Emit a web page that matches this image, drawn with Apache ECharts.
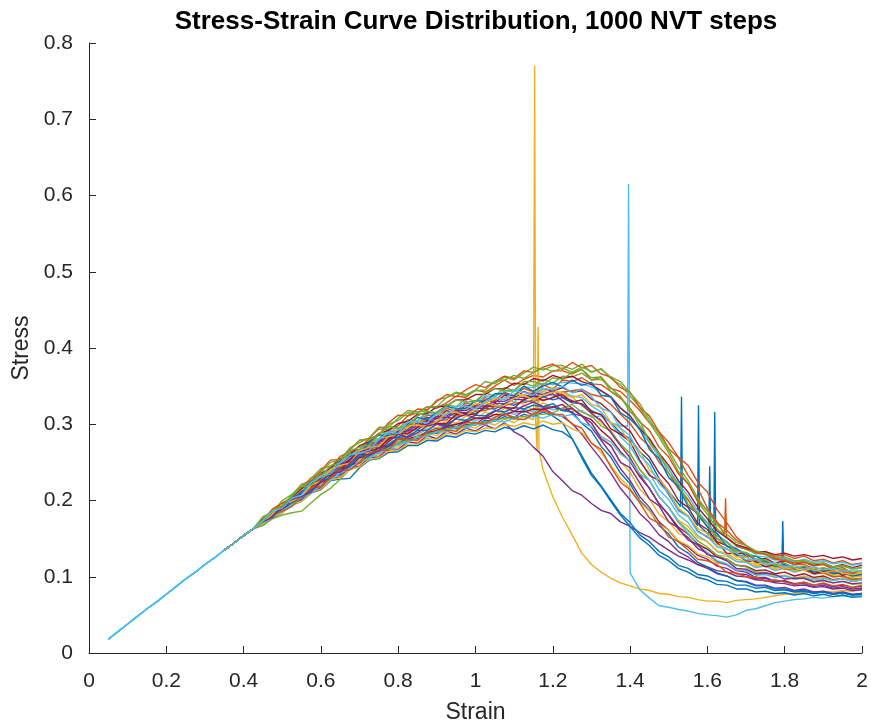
<!DOCTYPE html>
<html><head><meta charset="utf-8">
<script src="https://cdn.jsdelivr.net/npm/echarts@6/dist/echarts.min.js"></script>
<style>html,body{margin:0;padding:0;background:#fff}#c{width:871px;height:723px}</style>
</head><body><div id="c"></div>
<script>
// Strain grid (x values)
const strain = [0.05,0.075,0.1,0.125,0.15,0.175,0.2,0.225,0.25,0.275,0.3,0.325,0.35,0.375,0.4,0.425,
0.45,0.475,0.5,0.525,0.55,0.575,0.6,0.625,0.65,0.675,0.7,0.725,0.75,0.775,0.8,0.825,0.85,0.875,0.9,0.925,0.95,0.975,
1,1.025,1.05,1.075,1.1,1.125,1.15,1.175,1.2,1.225,1.25,1.275,1.3,1.325,1.35,1.375,1.4,1.425,1.45,1.475,1.5,1.525,
1.55,1.575,1.6,1.625,1.65,1.675,1.7,1.725,1.75,1.775,1.8,1.825,1.85,1.875,1.9,1.925,1.95,1.975,2];
// Shared elastic part (0.05 .. 0.425), identical for all runs
const sharedStart = [0.018,0.028,0.038,0.048,0.058,0.067,0.077,0.087,0.097,0.106,0.116,0.125,0.135,0.144,0.154,0.163];
// Stress of each run from strain 0.45 to 2.0
const curve00 = [.172,.182,.189,.200,.207,.218,.224,.236,.241,.252,.257,.267,.271,.281,.283,.292,.293,.301,.302,.309,.308,.315,.314,.321,.320,.327,.325,.331,.329,.336,.332,
.335,.328,.327,.318,.312,.302,.289,.281,.264,.252,.229,.212,.196,.186,.168,.157,.143,.137,.128,.126,.119,.12,.113,.114,.109,.111,.107,.109,.105,.107,.103,.105];
const curve01 = [.174,.188,.193,.201,.217,.23,.234,.242,.258,.264,.267,.282,.294,.293,.298,.311,.315,.323,.321,.328,.337,.335,.345,.342,.35,.358,.351,.359,.364,.362,.37,
.37,.366,.372,.358,.362,.347,.343,.331,.318,.302,.29,.268,.256,.233,.216,.19,.172,.152,.14,.136,.131,.133,.127,.129,.124,.127,.121,.123,.118,.121,.116,.118];
const curve02 = [.170,.179,.185,.196,.201,.213,.217,.230,.233,.245,.248,.258,.259,.270,.270,.280,.278,.288,.285,.294,.290,.298,.295,.303,.299,.307,.302,.310,.306,
.24,.205,.178,.155,.131,.116,.106,.098,.092,.088,.084,.082,.078,.077,.074,.073,.07,.068,.068,.066,.069,.07,.071,.073,.075,.077,.078,.08,.079,.081,.08,.082,.081,.083];
const curve03 = [.169,.178,.185,.195,.200,.212,.216,.228,.231,.243,.245,.256,.257,.268,.267,.277,.275,.285,.281,.291,.287,.295,.291,.299,.294,.302,
.29,.283,.27,.258,.238,.226,.213,.207,.196,.187,.183,.172,.166,.158,.152,.143,.135,.127,.122,.116,.113,.108,.106,.101,.1,.096,.095,.092,.091,.088,.089,.086,.087,.084,.085,.082,.083];
const curve04 = [.177,.184,.2,.208,.214,.229,.242,.245,.253,.269,.276,.282,.296,.296,.308,.318,.316,.318,.332,.335,.342,.339,.345,.356,.353,.362,.358,.367,.375,.371,.377,
.377,.372,.379,.368,.373,.36,.352,.337,.322,.302,.283,.262,.238,.222,.198,.182,.163,.152,.141,.137,.13,.13,.124,.124,.119,.12,.115,.117,.112,.114,.11,.112];
const curve05 = [.171,.180,.187,.198,.205,.216,.221,.233,.237,.249,.252,.263,.266,.275,.277,.285,.286,.294,.293,.301,.299,.306,.304,.311,.309,.317,.313,.320,.316,.323,.319,
.321,.316,.318,.309,.311,.302,.298,
.105,.083,.072,.062,.06,.057,.055,.052,.05,.049,.047,.05,.056,.058,.062,.066,.068,.07,.071,.073,.072,.074,.075,.074,.076];
const curve06 = [.173,.184,.190,.203,.208,.222,.227,.241,.244,.258,.260,.274,.275,.288,.287,.300,.298,.309,.307,.318,.314,.325,.321,.332,.328,.338,.334,.343,.338,.347,.343,
.348,.342,.344,.333,.327,.316,.301,.291,.27,.257,.236,.222,.2,.191,.17,.162,.146,.141,.131,.13,.122,.124,.118,.121,.116,.119,.115,.118,.113,.116,.112,.115];
const curve07 = [.168,.177,.184,.194,.199,.210,.214,.226,.228,.229,.243,.253,.255,.263,.264,.272,.272,.279,.278,.285,.283,.289,.287,.292,.290,.296,.293,.298,.294,.299,.293,
.29,.281,.259,.236,.219,.201,.183,.171,.155,.146,.133,.126,.115,.111,.103,.101,.095,.094,.089,.089,.085,.086,.082,.083,.08,.081,.078,.08,.077,.079,.076,.077];
const curve08 = [.174,.185,.191,.204,.209,.223,.229,.242,.247,.259,.263,.276,.277,.290,.290,.302,.301,.312,.310,.321,.317,.328,.324,.335,.331,.342,.337,.347,.342,.352,.346,
.358,.356,.361,.353,.352,.343,.334,.321,.303,.292,.27,.257,.235,.222,.2,.187,.171,.161,.148,.141,.133,.131,.125,.123,.118,.119,.114,.116,.11,.112,.105,.106];
const curve09 = [.171,.181,.188,.199,.205,.217,.222,.234,.238,.250,.253,.265,.266,.278,.278,.289,.287,.297,.295,.305,.301,.311,.306,.316,.312,.321,.316,.325,.319,.328,.322,
.326,.319,.312,.301,.284,.272,.251,.237,.215,.202,.182,.172,.157,.152,.14,.137,.128,.127,.12,.12,.113,.115,.109,.112,.106,.109,.104,.107,.102,.105,.099,.101];
const curve10 = [.170,.180,.186,.198,.203,.215,.219,.232,.234,.247,.250,.261,.263,.273,.274,.284,.282,.291,.290,.299,.296,.304,.300,.309,.305,.314,.309,.318,.312,.321,.314,
.31,.301,.287,.27,.254,.236,.216,.201,.183,.171,.155,.146,.133,.126,.116,.111,.104,.101,.095,.094,.089,.089,.085,.086,.082,.084,.08,.081,.078,.08,.077,.078];
const curve11 = [.174,.186,.192,.206,.211,.225,.230,.244,.248,.263,.266,.280,.281,.294,.294,.306,.305,.316,.314,.326,.323,.334,.330,.341,.337,.348,.344,.354,.350,.359,.354,
.363,.362,.367,.358,.359,.348,.336,.32,.298,.281,.259,.242,.218,.201,.18,.166,.15,.141,.13,.126,.119,.119,.113,.113,.108,.109,.104,.105,.1,.101,.097,.098];
const curve12 = [.173,.183,.190,.203,.208,.221,.225,.239,.243,.256,.258,.272,.273,.286,.285,.297,.295,.307,.303,.315,.311,.322,.317,.328,.323,.335,.329,.339,.334,.344,.337,
.343,.337,.335,.324,.316,.301,.284,.271,.25,.236,.214,.201,.181,.171,.154,.146,.133,.129,.12,.119,.112,.114,.108,.111,.106,.109,.105,.108,.104,.107,.103,.105];
const curve13 = [.171,.178,.189,.195,.207,.212,.224,.229,.241,.245,.256,.259,.270,.271,.281,.280,.284,.289,.292,.297,.300,.303,.308,.307,.313,.312,.317,.316,.320,.319,.323,
.318,.321,.311,.306,.292,.281,.264,.251,.231,.216,.196,.181,.165,.156,.143,.136,.126,.123,.115,.114,.108,.109,.104,.106,.101,.104,.099,.101,.096,.098,.094,.096];
const curve14 = [.170,.179,.186,.197,.202,.214,.218,.231,.234,.246,.249,.259,.262,.271,.273,.281,.281,.289,.288,.296,.294,.300,.299,.305,.304,.310,.307,.313,.310,.316,.311,
.302,.281,.256,.233,.218,.199,.181,.166,.151,.141,.128,.121,.111,.106,.099,.096,.09,.089,.084,.084,.08,.081,.078,.079,.076,.078,.075,.077,.074,.076,.073,.074];
const curve15 = [.172,.180,.191,.198,.209,.216,.227,.234,.244,.250,.260,.265,.274,.278,.286,.289,.296,.298,.304,.306,.311,.312,.317,.318,.323,.324,.328,.328,.332,.332,.335,
.342,.344,.346,.339,.336,.326,.313,.301,.283,.271,.25,.236,.215,.201,.182,.171,.154,.146,.135,.131,.123,.121,.115,.114,.109,.109,.104,.105,.1,.101,.096,.097];
const curve16 = [.173,.182,.193,.200,.212,.218,.232,.237,.249,.253,.266,.269,.280,.283,.293,.295,.304,.304,.313,.313,.320,.320,.327,.327,.334,.333,.340,.338,.344,.342,.348,
.338,.336,.324,.316,.302,.291,.273,.261,.24,.226,.205,.191,.174,.166,.151,.146,.134,.131,.123,.121,.115,.116,.111,.113,.108,.111,.107,.109,.105,.108,.104,.106];
const curve17 = [.173,.181,.192,.199,.211,.217,.230,.235,.247,.251,.263,.267,.277,.280,.289,.291,.299,.300,.308,.309,.315,.315,.321,.321,.327,.327,.333,.332,.337,.336,.340,
.331,.321,.311,.296,.279,.262,.242,.226,.205,.191,.172,.161,.146,.139,.128,.123,.114,.111,.104,.103,.097,.098,.093,.095,.091,.093,.089,.091,.087,.089,.086,.087];
const curve18 = [.167,.176,.181,.184,.186,.197,.208,.216,.228,.241,.250,.256,.265,.268,.276,.278,.284,.286,.291,.293,.297,.297,.302,.302,.307,.307,.310,.310,.313,.313,.315,
.321,.326,.316,.311,.298,.291,.274,.262,.241,.226,.205,.191,.172,.161,.147,.139,.128,.123,.115,.113,.106,.106,.101,.101,.097,.098,.094,.096,.092,.094,.09,.091];
const curve19 = [.174,.185,.192,.205,.211,.224,.230,.243,.248,.260,.265,.277,.280,.291,.293,.303,.305,.313,.314,.322,.322,.330,.329,.337,.336,.344,.343,.349,.348,.354,.352,
.355,.354,.353,.349,.343,.336,.322,.311,.292,.276,.257,.241,.222,.206,.186,.171,.155,.146,.136,.131,.127,.126,.122,.124,.12,.123,.119,.121,.117,.119,.115,.117];
const curve20 = [.175,.184,.196,.204,.216,.223,.236,.242,.255,.260,.272,.277,.288,.292,.301,.304,.313,.314,.323,.324,.332,.332,.339,.339,.347,.346,.354,.352,.360,.357,.364,
.36,.363,.356,.352,.344,.336,.321,.311,.294,.281,.262,.246,.226,.211,.191,.176,.16,.151,.142,.138,.133,.133,.129,.131,.127,.129,.126,.128,.124,.126,.122,.124];
const curve21 = [.171,.179,.190,.196,.207,.213,.226,.230,.242,.246,.258,.260,.271,.273,.283,.284,.292,.292,.300,.300,.307,.305,.312,.311,.318,.316,.322,.320,.325,.323,.327,
.318,.316,.301,.291,.271,.257,.236,.222,.2,.187,.167,.156,.139,.131,.119,.113,.105,.101,.095,.093,.088,.088,.084,.084,.081,.082,.079,.08,.077,.079,.076,.078];
const curve22 = [.174,.189,.197,.204,.221,.226,.239,.253,.254,.267,.279,.281,.286,.302,.312,.311,.32,.319,.33,.339,.336,.345,.352,.348,.356,.363,.36,.37,.368,.375,.379,
.372,.381,.374,.377,.366,.362,.348,.342,.322,.311,.29,.276,.257,.246,.224,.211,.188,.171,.152,.141,.132,.129,.123,.121,.116,.116,.111,.111,.106,.108,.103,.104];
const curve23 = [.169,.178,.184,.195,.199,.211,.215,.227,.230,.241,.244,.254,.256,.265,.266,.274,.274,.282,.280,.288,.286,.292,.290,.295,.294,.300,.297,.302,.299,.304,.300,
.302,.294,.289,.276,.263,.246,.229,.216,.198,.186,.169,.161,.147,.141,.13,.126,.118,.116,.109,.109,.103,.105,.1,.102,.098,.101,.097,.099,.095,.098,.094,.096];
const curve24 = [.173,.181,.192,.200,.212,.218,.230,.236,.248,.253,.264,.269,.279,.282,.291,.293,.302,.303,.310,.311,.318,.318,.324,.324,.330,.330,.336,.335,.341,.339,.344,
.336,.331,.326,.314,.305,.289,.272,.256,.234,.216,.195,.181,.162,.151,.137,.131,.12,.116,.108,.106,.099,.099,.094,.094,.09,.091,.087,.089,.085,.087,.084,.085];
const curve25 = [.179,.185,.192,.208,.221,.224,.237,.25,.253,.266,.279,.28,.285,.3,.305,.315,.314,.323,.323,.335,.341,.337,.344,.345,.356,.358,.364,.36,.368,.374,.369,
.374,.368,.375,.369,.372,.362,.356,.341,.327,.306,.287,.266,.244,.226,.203,.186,.168,.156,.145,.141,.134,.131,.126,.126,.121,.121,.117,.118,.113,.115,.111,.112];
const curve26 = [.170,.178,.187,.194,.204,.211,.220,.227,.236,.242,.251,.255,.263,.266,.274,.276,.283,.284,.290,.290,.296,.295,.300,.299,.305,.303,.308,.306,.311,.308,.313,
.31,.313,.302,.297,.284,.277,.261,.252,.235,.226,.205,.191,.171,.157,.141,.132,.121,.117,.109,.108,.102,.103,.099,.101,.097,.099,.096,.098,.095,.097,.094,.096];
const curve27 = [.172,.183,.189,.203,.205,.218,.231,.233,.239,.254,.265,.265,.268,.281,.289,.287,.296,.305,.301,.301,.313,.314,.312,.324,.324,.322,.321,.333,.338,.331,.335,
.339,.329,.332,.316,.313,.294,.287,.277,.253,.233,.226,.208,.187,.18,.16,.152,.145,.131,.13,.121,.12,.113,.116,.11,.111,.112,.104,.107,.108,.102,.105,.103];
const curve28 = [.173,.18,.194,.203,.209,.225,.23,.235,.252,.259,.262,.276,.286,.285,.288,.3,.309,.306,.316,.324,.32,.321,.331,.33,.34,.34,.337,.35,.343,.35,.355,
.349,.358,.351,.355,.338,.336,.315,.307,.294,.267,.255,.23,.218,.192,.183,.165,.157,.14,.137,.127,.127,.121,.114,.116,.111,.113,.106,.109,.104,.106,.101,.103];
const curve29 = [.172,.182,.186,.192,.206,.217,.218,.23,.24,.24,.25,.262,.266,.266,.281,.28,.279,.29,.295,.292,.291,.302,.302,.3,.309,.314,.307,.306,.314,.318,.313,
.313,.3,.295,.275,.267,.244,.224,.214,.197,.177,.17,.152,.146,.135,.123,.121,.116,.106,.105,.1,.1,.094,.096,.093,.09,.093,.089,.092,.088,.09,.086,.089];
const curve30 = [.171,.183,.195,.199,.206,.22,.226,.241,.246,.249,.265,.27,.271,.284,.286,.298,.299,.297,.304,.315,.316,.311,.321,.328,.324,.324,.334,.338,.332,.338,.342,
.342,.335,.339,.326,.322,.302,.295,.275,.265,.24,.228,.213,.19,.18,.163,.157,.142,.137,.126,.126,.117,.117,.117,.11,.112,.108,.111,.105,.108,.105,.103,.105];
const curve31 = [.172,.178,.192,.202,.205,.211,.226,.236,.237,.249,.261,.26,.265,.277,.287,.283,.289,.298,.3,.297,.308,.313,.308,.309,.317,.323,.317,.324,.329,.323,.322,
.326,.314,.311,.302,.281,.272,.25,.243,.223,.202,.193,.172,.164,.148,.142,.129,.126,.121,.111,.11,.104,.105,.103,.097,.098,.098,.093,.095,.092,.094,.091,.092];
const curve32 = [.172,.187,.193,.206,.218,.22,.232,.246,.249,.265,.27,.273,.287,.297,.295,.298,.311,.317,.315,.324,.332,.329,.33,.341,.347,.344,.345,.356,.356,.352,.361,
.359,.368,.372,.361,.362,.343,.337,.316,.305,.276,.262,.235,.222,.195,.183,.17,.15,.145,.133,.132,.123,.122,.115,.118,.112,.114,.109,.112,.109,.11,.106,.108];
const curve33 = [.174,.186,.19,.203,.207,.224,.231,.235,.25,.26,.262,.266,.28,.289,.288,.303,.303,.302,.314,.313,.323,.324,.32,.33,.336,.332,.344,.342,.338,.347,.345,
.35,.341,.346,.336,.321,.316,.295,.285,.259,.246,.222,.21,.186,.179,.159,.153,.139,.136,.131,.122,.123,.116,.119,.113,.115,.11,.113,.109,.111,.107,.109,.108];
// Narrow spikes: which run, strain, peak stress, stress at the foot
const spikeCurve  = [2, 2, 5, 0, 0, 0, 0, 1, 0];
const spikeStrain = [1.153, 1.162, 1.396, 1.533, 1.577, 1.606, 1.619, 1.647, 1.795];
const spikePeak   = [0.770, 0.428, 0.615, 0.336, 0.325, 0.245, 0.316, 0.203, 0.173];
const spikeBase   = [0.305, 0.265, 0.297, 0.192, 0.167, 0.154, 0.146, 0.155, 0.113];
// Axis ticks
const xTicks = {min: 0, max: 2, interval: 0.2};
const yTicks = {min: 0, max: 0.8, interval: 0.1};
const palette = ['#0072BD','#D95319','#EDB120','#7E2F8E','#77AC30','#4DBEEE','#A2142F'];
// The overlapping elastic segment is drawn by the light-blue runs only (the colour visible on top there);
// the other runs are drawn from this strain on, where the bundle begins to show several colours.
const hiddenSharedBelow = 0.35;

const curves = [curve00,curve01,curve02,curve03,curve04,curve05,curve06,curve07,curve08,curve09,curve10,curve11,curve12,curve13,
  curve14,curve15,curve16,curve17,curve18,curve19,curve20,curve21,curve22,curve23,curve24,curve25,curve26,
  curve27,curve28,curve29,curve30,curve31,curve32,curve33];
curves.forEach((c,i)=>{ if (c.length !== strain.length - sharedStart.length) console.error('curve'+i+' has '+c.length); });

const FONT = "'Liberation Sans', Arial, Helvetica, sans-serif";
const series = curves.map((c, i) => {
  const color = palette[i % palette.length];
  let pts = strain.map((x, k) => [x, k < sharedStart.length ? sharedStart[k] : c[k - sharedStart.length]]);
  if (color !== '#4DBEEE') pts = pts.filter(p => p[0] >= hiddenSharedBelow - 1e-9);
  spikeCurve.forEach((ci, j) => {
    if (ci !== i) return;
    const w = 0.0025;
    pts.push([spikeStrain[j] - w, spikeBase[j]], [spikeStrain[j], spikePeak[j]], [spikeStrain[j] + w, spikeBase[j]]);
  });
  pts.sort((a, b) => a[0] - b[0]);
  return {
    type: 'line', data: pts, showSymbol: false, symbol: 'none', smooth: false,
    lineStyle: {width: 1.4, color: color},
    itemStyle: {color: color},
    emphasis: {disabled: true}, animation: false, clip: true
  };
});

const axisCommon = {
  type: 'value',
  axisLine: {show: true, onZero: false, lineStyle: {color: '#262626', width: 1}},
  axisTick: {show: true, inside: true, length: 7, lineStyle: {color: '#262626', width: 1}},
  splitLine: {show: false},
  nameLocation: 'middle'
};
const chart = echarts.init(document.getElementById('c'), null, {renderer: 'canvas'});
chart.setOption({
  backgroundColor: '#ffffff',
  animation: false,
  grid: {left: 89, right: 9, top: 43, bottom: 70, containLabel: false, outerBoundsMode: 'none'},
  graphic: [{
    type: 'text', x: 476, y: 22,
    style: {text: 'Stress-Strain Curve Distribution, 1000 NVT steps', font: 'bold 26px ' + FONT,
      fill: '#000000', align: 'center', verticalAlign: 'middle'}
  }],
  xAxis: Object.assign({}, axisCommon, {
    min: xTicks.min, max: xTicks.max, interval: xTicks.interval,
    axisLabel: {color: '#262626', fontSize: 21, fontFamily: FONT, margin: 18},
    name: 'Strain', nameGap: 48,
    nameTextStyle: {color: '#262626', fontSize: 23, fontFamily: FONT}
  }),
  yAxis: Object.assign({}, axisCommon, {
    min: yTicks.min, max: yTicks.max, interval: yTicks.interval,
    axisLabel: {color: '#262626', fontSize: 21, fontFamily: FONT, margin: 16},
    name: 'Stress', nameGap: 52,
    nameTextStyle: {color: '#262626', fontSize: 23, fontFamily: FONT}
  }),
  series: series
});
</script></body></html>
